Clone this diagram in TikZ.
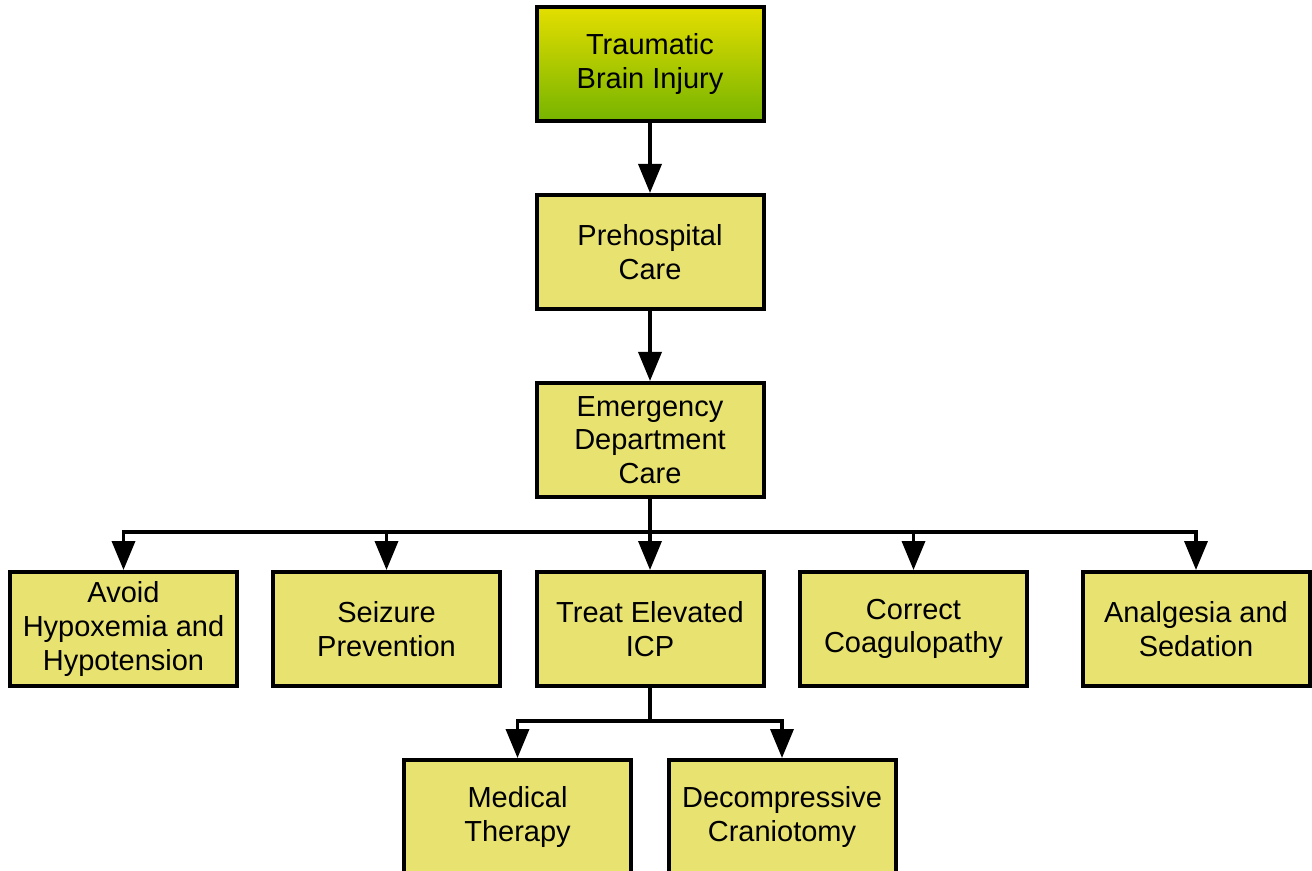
\documentclass[tikz,border=0pt]{standalone}
\usepackage{fontspec}
\setmainfont{Liberation Sans}
\usepackage{tikz}
\usetikzlibrary{arrows.meta,positioning}
\definecolor{boxfill}{RGB}{232,226,112}
\definecolor{tbitop}{RGB}{228,222,0}
\definecolor{tbibot}{RGB}{118,180,0}
\tikzset{every node/.append style={font=\fontsize{14.5}{16.8}\selectfont}}

\begin{document}
\begin{tikzpicture}[x=0.5pt,y=-0.5pt,
  stage/.style={draw=black, line width=2pt, fill=boxfill, minimum width=113.5pt,
    minimum height=57pt, inner sep=2pt, align=center},
  link/.style={line width=1.8pt},
  arr/.style={line width=1.8pt, -{Triangle[length=14.5pt,width=11.5pt]}}]
  \clip (0,0) rectangle (1312,871);
  \useasboundingbox (0,0) rectangle (1312,871);

  % main line
  \node[stage, top color=tbitop, bottom color=tbibot] (tbi) at (650,64) {Traumatic\\Brain Injury};
  \node[stage] (pre) at (650,252) {Prehospital\\Care};
  \node[stage] (ed) at (650,440) {Emergency\\Department\\Care};

  % ED care
  \node[stage] (avoid) at (123.5,629) {Avoid\\Hypoxemia and\\Hypotension};
  \node[stage] (seizure) at (386.5,629) {Seizure\\Prevention};
  \node[stage] (icp) at (650,629) {Treat Elevated\\ICP};
  \node[stage] (coag) at (913.5,629) {Correct\\Coagulopathy};
  \node[stage] (sedation) at (1196,629) {Analgesia and\\Sedation};

  % ICP
  \node[stage] (medical) at (517.5,817) {Medical\\Therapy};
  \node[stage] (crani) at (782,817) {Decompressive\\Craniotomy};

  \coordinate (busED) at (650,532);
  \coordinate (busICP) at (650,721);

  \draw[arr] (tbi) -- (pre);
  \draw[arr] (pre) -- (ed);
  \draw[link] (ed.south) -- (busED);
  \foreach \n in {avoid,seizure,icp,coag,sedation}{
    \draw[arr] (busED) -| (\n.north);
  };
  \draw[link] (icp.south) -- (busICP);
  \foreach \n in {medical,crani}{
    \draw[arr] (busICP) -| (\n.north);
  };
\end{tikzpicture}
\end{document}
